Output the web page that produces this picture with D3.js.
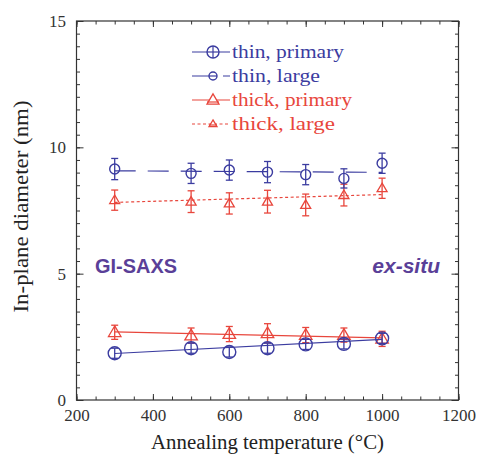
<!DOCTYPE html>
<html><head><meta charset="utf-8">
<script src="https://cdn.jsdelivr.net/npm/d3@7"></script>
<style>
html,body{margin:0;padding:0;background:#fff;}
svg{display:block;}
</style></head>
<body>
<script>
// ---- data ----
const temps = [300, 500, 600, 700, 800, 900, 1000];
const thinPrimary = [1.85, 2.05, 1.90, 2.05, 2.20, 2.22, 2.44];
const thinPrimaryErr = [0.2, 0.2, 0.2, 0.2, 0.2, 0.2, 0.2];
const thinLarge = [9.14, 8.97, 9.10, 9.02, 8.92, 8.77, 9.37];
const thinLargeErr = [0.42, 0.40, 0.40, 0.42, 0.40, 0.38, 0.40];
const thickPrimary = [2.68, 2.55, 2.61, 2.64, 2.57, 2.57, 2.42];
const thickPrimaryErr = [0.28, 0.30, 0.30, 0.38, 0.30, 0.28, 0.30];
const thickLarge = [7.91, 7.85, 7.78, 7.85, 7.72, 8.11, 8.38];
const thickLargeErr = [0.40, 0.43, 0.42, 0.45, 0.43, 0.43, 0.40];
// fitted lines (endpoints at 300 and 1000 °C)
const fitX = [300, 1000];
const thinPrimaryFit = [1.84, 2.40];
const thinLargeFit = [9.07, 9.01];
const thickPrimaryFit = [2.70, 2.46];
const thickLargeFit = [7.82, 8.13];

const xTicksMajor = [200, 400, 600, 800, 1000, 1200];
const yTicksMajor = [0, 5, 10, 15];
const legendLabels = ["thin, primary", "thin, large", "thick, primary", "thick, large"];

const W = 479, H = 462;
const BLUE = "#3b3ca0", RED = "#e8463c", PURPLE = "#5a3f98", AX = "#333";

const svg = d3.select("body").append("svg").attr("width", W).attr("height", H);
const x = d3.scaleLinear().domain([200, 1200]).range([76.5, 458.5]);
const y = d3.scaleLinear().domain([0, 15]).range([400, 21]);

const serif = "'Liberation Serif','Times New Roman',serif";

// axes
function style(g){ g.select(".domain").remove(); g.selectAll("line").attr("stroke", AX).attr("stroke-width",1);
  g.selectAll("text").attr("fill", AX).style("font-family", serif).style("font-size","17px"); }
const xMinor = d3.range(200, 1201, 50), yMinor = d3.range(0, 15.01, 0.5);
svg.append("g").attr("transform",`translate(0,${y(0)})`).call(d3.axisBottom(x).tickValues(xMinor).tickSize(-3.5).tickFormat("")).call(style);
svg.append("g").attr("transform",`translate(0,${y(0)})`).call(d3.axisBottom(x).tickValues(xTicksMajor).tickSize(-6).tickPadding(9).tickFormat(d3.format("d"))).call(style);
svg.append("g").attr("transform",`translate(0,${y(15)})`).call(d3.axisTop(x).tickValues(xMinor).tickSize(-3.5).tickFormat("")).call(style);
svg.append("g").attr("transform",`translate(0,${y(15)})`).call(d3.axisTop(x).tickValues(xTicksMajor).tickSize(-6).tickFormat("")).call(style);
svg.append("g").attr("transform",`translate(${x(200)},0)`).call(d3.axisLeft(y).tickValues(yMinor).tickSize(-3.5).tickFormat("")).call(style);
svg.append("g").attr("transform",`translate(${x(200)},0)`).call(d3.axisLeft(y).tickValues(yTicksMajor).tickSize(-7).tickPadding(10.5).tickFormat(d3.format("d"))).call(style);
svg.append("g").attr("transform",`translate(${x(1200)},0)`).call(d3.axisRight(y).tickValues(yMinor).tickSize(-3.5).tickFormat("")).call(style);
svg.append("g").attr("transform",`translate(${x(1200)},0)`).call(d3.axisRight(y).tickValues(yTicksMajor).tickSize(-7).tickFormat("")).call(style);
svg.append("rect").attr("x", x(200)).attr("y", y(15)).attr("width", x(1200)-x(200)).attr("height", y(0)-y(15))
  .attr("fill","none").attr("stroke", AX).attr("stroke-width",1.2);

// axis titles
svg.append("text").attr("x", (x(200)+x(1200))/2).attr("y", 449).attr("text-anchor","middle")
  .style("font-family", serif).style("font-size","20px").attr("fill", "#222")
  .attr("textLength", 233).attr("lengthAdjust","spacingAndGlyphs").text("Annealing temperature (°C)");
svg.append("text").attr("transform", `translate(28,${(y(0)+y(15))/2 - 4}) rotate(-90)`).attr("text-anchor","middle")
  .style("font-family", serif).style("font-size","21px").attr("fill", "#222")
  .attr("textLength", 212).attr("lengthAdjust","spacingAndGlyphs").text("In-plane diameter (nm)");

// markers
const tri = (s) => { const h = s*0.85; return `M0,${-h*0.6}L${s/2},${h*0.4}L${-s/2},${h*0.4}Z`; };
function series(vals, errs, fit, color, shape, size, dash){
  const g = svg.append("g");
  const line = d3.line().x((d,i)=>x(fitX[i])).y(d=>y(d));
  g.append("path").attr("d", line(fit)).attr("fill","none").attr("stroke", color).attr("stroke-width",1.2)
    .attr("stroke-dasharray", dash);
  const data = temps.map((t,i)=>({t, v: vals[i], e: errs[i]}));
  const cap = 3.5;
  data.forEach(d=>{
    const cx = x(d.t);
    g.append("line").attr("x1",cx).attr("x2",cx).attr("y1",y(d.v-d.e)).attr("y2",y(d.v+d.e)).attr("stroke",color).attr("stroke-width",1.3);
    [d.v-d.e, d.v+d.e].forEach(v=>g.append("line").attr("x1",cx-cap).attr("x2",cx+cap).attr("y1",y(v)).attr("y2",y(v)).attr("stroke",color).attr("stroke-width",1.3));
    if(shape==="circle") g.append("circle").attr("cx",cx).attr("cy",y(d.v)).attr("r",size).attr("fill","none").attr("stroke",color).attr("stroke-width",1.4);
    else g.append("path").attr("transform",`translate(${cx},${y(d.v)})`).attr("d",tri(size)).attr("fill","none").attr("stroke",color).attr("stroke-width",1.3);
  });
}
series(thickLarge, thickLargeErr, thickLargeFit, RED, "tri", 10, "3,2.5");
series(thinLarge, thinLargeErr, thinLargeFit, BLUE, "circle", 5, "21,12");
series(thickPrimary, thickPrimaryErr, thickPrimaryFit, RED, "tri", 12.5, null);
series(thinPrimary, thinPrimaryErr, thinPrimaryFit, BLUE, "circle", 6.5, null);

// legend
const legend = [
  {label: legendLabels[0], color: BLUE, shape:"circle", size:6, dash:null, len:112},
  {label: legendLabels[1], color: BLUE, shape:"circle", size:4, dash:"21,10", len:88},
  {label: legendLabels[2], color: RED, shape:"tri", size:12, dash:null, len:120},
  {label: legendLabels[3], color: RED, shape:"tri", size:8, dash:"3,2.5", len:103}
];
legend.forEach((L,i)=>{
  const cy = 52 + i*24;
  const g = svg.append("g");
  g.append("line").attr("x1",192).attr("x2",230).attr("y1",cy).attr("y2",cy).attr("stroke",L.color).attr("stroke-width",1.2).attr("stroke-dasharray",L.dash);
  if(L.shape==="circle"){
    g.append("circle").attr("cx",213).attr("cy",cy).attr("r",L.size).attr("fill","#fff").attr("stroke",L.color).attr("stroke-width",1.4);
    g.append("line").attr("x1",213-L.size).attr("x2",213+L.size).attr("y1",cy).attr("y2",cy).attr("stroke",L.color).attr("stroke-width",1.2);
    if(i===0) g.append("line").attr("x1",213).attr("x2",213).attr("y1",cy-L.size).attr("y2",cy+L.size).attr("stroke",L.color).attr("stroke-width",1.2);
  } else {
    g.append("path").attr("transform",`translate(213,${cy})`).attr("d",tri(L.size)).attr("fill","#fff").attr("stroke",L.color).attr("stroke-width",1.3);
    g.append("line").attr("x1",213-L.size/2).attr("x2",213+L.size/2).attr("y1",cy+ (i===2?2:1)).attr("y2",cy+(i===2?2:1)).attr("stroke",L.color).attr("stroke-width",1.2);
  }
  g.append("text").attr("x",232).attr("y",cy+5.5).attr("fill",L.color).style("font-family",serif).style("font-size","19px")
    .attr("textLength",L.len).attr("lengthAdjust","spacingAndGlyphs").text(L.label);
});

// annotations
svg.append("text").attr("x",95).attr("y",273).attr("fill",PURPLE).style("font-family","'Liberation Sans',Arial,sans-serif")
  .style("font-size","21px").style("font-weight","bold").attr("textLength",82).attr("lengthAdjust","spacingAndGlyphs").text("GI-SAXS");
svg.append("text").attr("x",440).attr("y",273).attr("text-anchor","end").attr("fill",PURPLE).style("font-family","'Liberation Sans',Arial,sans-serif")
  .style("font-size","21px").style("font-weight","bold").style("font-style","italic").text("ex-situ");
</script>
</body></html>
